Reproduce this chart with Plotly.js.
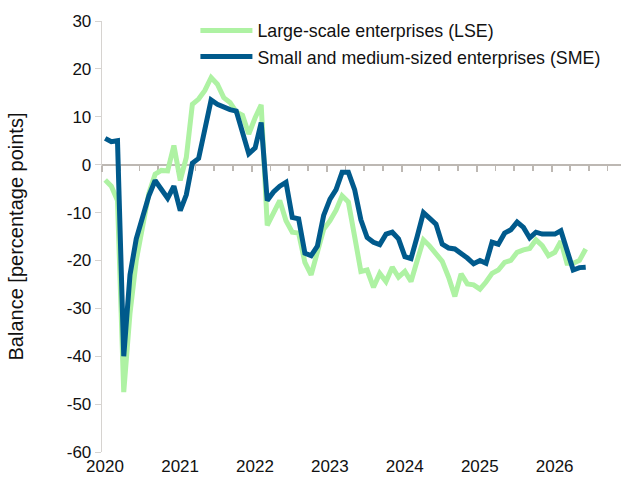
<!DOCTYPE html>
<html><head><meta charset="utf-8">
<script src="https://cdn.plot.ly/plotly-3.0.1.min.js"></script>
<style>html,body{margin:0;padding:0;background:#fff}#chart{width:624px;height:480px}</style>
</head><body><div id="chart"></div>
<script>
const startYear = 2020;
const seriesNames = ['Large-scale enterprises (LSE)', 'Small and medium-sized enterprises (SME)'];
const lse = [
  -3.2, -4.5, -7.5, -47.5, -31.0, -20.0, -13.0, -6.0, -2.0, -1.2, -1.3, 4.0,
  -3.3, 1.5, 12.6, 13.7, 15.5, 18.2, 16.8, 14.0, 13.0, 11.0, 10.3, 6.4,
  9.8, 12.5, -12.7, -10.0, -7.5, -11.7, -14.1, -14.3, -20.4, -23.0, -18.6, -13.5,
  -11.7, -9.5, -6.5, -7.8, -15.0, -22.3, -22.0, -25.6, -22.7, -24.4, -21.4, -23.5,
  -22.3, -24.4, -20.0, -15.7, -17.0, -18.8, -20.2, -23.5, -27.5, -22.8, -24.9, -25.1,
  -26.0, -24.5, -22.7, -22.0, -20.4, -20.0, -18.3, -17.8, -17.5, -15.7, -16.9, -19.0,
  -18.3, -16.0, -20.6, -20.6, -20.0, -17.6
];
const sme = [
  5.5, 4.8, 5.0, -40.0, -23.0, -15.5, -11.0, -6.5, -3.3, -5.0, -7.0, -4.5,
  -9.6, -6.3, 0.3, 1.3, 7.5, 13.5, 12.6, 12.0, 11.5, 11.2, 6.7, 2.3,
  3.5, 8.8, -7.5, -5.7, -4.5, -3.7, -11.0, -11.3, -18.5, -19.0, -17.0, -10.6,
  -7.2, -5.2, -1.6, -1.6, -5.2, -11.5, -15.2, -16.2, -16.7, -14.5, -14.1, -15.5,
  -19.2, -19.6, -15.0, -10.0, -11.2, -12.4, -16.6, -17.4, -17.6, -18.5, -19.5, -20.7,
  -20.0, -20.6, -16.2, -16.6, -14.3, -13.6, -12.0, -13.1, -15.3, -14.1, -14.5, -14.5,
  -14.5, -13.8, -18.0, -22.0, -21.5, -21.4
];
const yearLabels = ['2020', '2021', '2022', '2023', '2024', '2025', '2026'];
const yTicks = [-60, -50, -40, -30, -20, -10, 0, 10, 20, 30];

const months = lse.map((_, i) => {
  const y = startYear + Math.floor(i / 12);
  const m = (i % 12) + 1;
  return y + '-' + String(m).padStart(2, '0');
});

const FONT = 'Liberation Sans, Arial, sans-serif';
const xRange = ['2020-01-01', '2026-12-05'];

const traces = [
  {x: months, y: lse, name: seriesNames[0], type: 'scatter', mode: 'lines',
   xperiod: 'M1', xperiodalignment: 'middle',
   line: {color: '#AEF2A3', width: 5}, hoverinfo: 'skip'},
  {x: months, y: sme, name: seriesNames[1], type: 'scatter', mode: 'lines',
   xperiod: 'M1', xperiodalignment: 'middle',
   line: {color: '#005A8C', width: 5}, hoverinfo: 'skip'},
  {x: [], y: [], xaxis: 'x2', showlegend: false, hoverinfo: 'skip', type: 'scatter'}
];

const layout = {
  width: 624, height: 480,
  margin: {l: 102, r: 3, t: 21, b: 28},
  paper_bgcolor: '#fff', plot_bgcolor: '#fff',
  font: {family: FONT, size: 17, color: '#111'},
  showlegend: true,
  legend: {x: 0.18, y: 1.02, xanchor: 'left', yanchor: 'top', bgcolor: 'rgba(0,0,0,0)',
           font: {family: FONT, size: 17.8, color: '#111'}, itemwidth: 52, tracegroupgap: 0},
  xaxis: {type: 'date', range: xRange, showgrid: false, zeroline: false, showline: false,
          ticks: '', tickmode: 'array', tickvals: yearLabels.map(y => y + '-01-01'), ticktext: yearLabels,
          tickfont: {family: FONT, size: 17, color: '#111'}, ticklabelshift: 3, ticklabelstandoff: 2, fixedrange: true},
  xaxis2: {type: 'date', range: xRange, overlaying: 'x', anchor: 'free', position: 60 / 90,
           showgrid: false, zeroline: false, showline: true, linecolor: '#BDB8B3', linewidth: 2.5,
           showticklabels: false, ticks: 'outside', ticklen: 6, tickwidth: 2, tickcolor: '#BDB8B3',
           tickmode: 'array', tickvals: yearLabels.map(y => y + '-01-01'),
           minor: {ticks: 'outside', ticklen: 4.5, tickwidth: 1.5, tickcolor: '#BDB8B3', dtick: 'M3', tick0: '2020-01-01', showgrid: false},
           layer: 'below traces', fixedrange: true},
  yaxis: {range: [-60, 30], tickmode: 'array', tickvals: yTicks, ticktext: yTicks.map(v => String(v)),
          showgrid: false, zeroline: false,
          showline: true, linecolor: '#D6D3D0', linewidth: 1.3, ticks: 'outside', ticklen: 6, tickcolor: '#D6D3D0',
          tickfont: {family: FONT, size: 17, color: '#111'},
          title: {text: 'Balance [percentage points]', font: {family: FONT, size: 20, color: '#111'}, standoff: 37},
          layer: 'below traces', fixedrange: true}
};

Plotly.newPlot('chart', traces, layout, {staticPlot: true, displayModeBar: false});
</script>
</body></html>
